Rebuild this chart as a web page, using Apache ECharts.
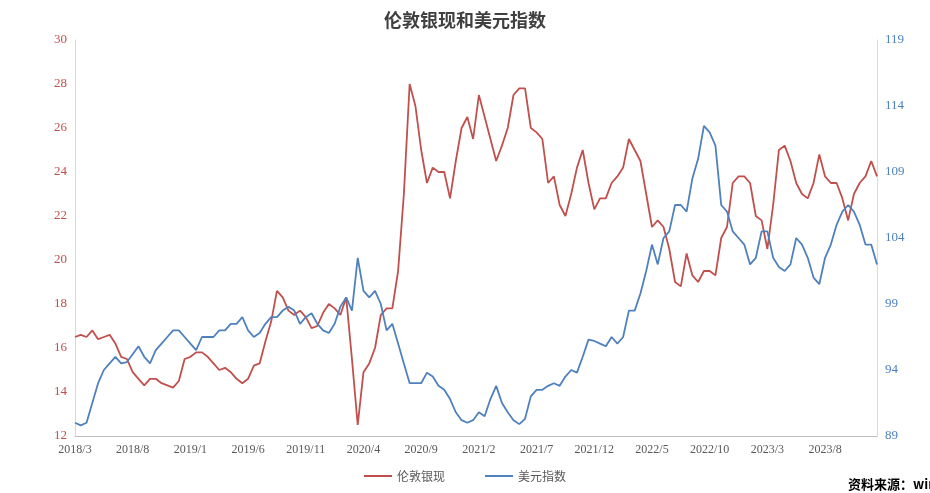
<!DOCTYPE html>
<html>
<head>
<meta charset="utf-8">
<script src="https://cdn.jsdelivr.net/npm/echarts@6/dist/echarts.min.js"></script>
<style>
  html, body { margin: 0; padding: 0; background: #fff; }
  #chart { width: 930px; height: 493px; }
</style>
</head>
<body>
<div id="chart"></div>
<script>
// two points per month, 2018/3 .. 2023/12
var startYear = 2018, startMonth = 3, monthCount = 70;

var silver = [
  16.5,16.6, 16.5,16.8, 16.4,16.5, 16.6,16.2, 15.6,15.5, 14.9,14.6, 14.3,14.6, 14.6,14.4, 14.3,14.2, 14.5,15.5,
  15.6,15.8, 15.8,15.6, 15.3,15.0, 15.1,14.9, 14.6,14.4, 14.6,15.2, 15.3,16.3, 17.2,18.6, 18.3,17.7, 17.5,17.7,
  17.4,16.9, 17.0,17.6, 18.0,17.8, 17.5,18.3, 15.5,12.5, 14.9,15.3, 16.0,17.5, 17.8,17.8, 19.5,23.0, 28.0,27.0,
  25.0,23.5, 24.2,24.0, 24.0,22.8, 24.5,26.0, 26.5,25.5, 27.5,26.5, 25.5,24.5, 25.2,26.0, 27.5,27.8, 27.8,26.0,
  25.8,25.5, 23.5,23.8, 22.5,22.0, 23.0,24.2, 25.0,23.5, 22.3,22.8, 22.8,23.5, 23.8,24.2, 25.5,25.0, 24.5,23.0,
  21.5,21.8, 21.5,20.5, 19.0,18.8, 20.3,19.3, 19.0,19.5, 19.5,19.3, 21.0,21.5, 23.5,23.8, 23.8,23.5, 22.0,21.8,
  20.5,22.5, 25.0,25.2, 24.5,23.5, 23.0,22.8, 23.5,24.8, 23.8,23.5, 23.5,22.8, 21.8,23.0, 23.5,23.8, 24.5,23.8
];

var dollar = [
  90.0,89.8, 90.0,91.5, 93.0,94.0, 94.5,95.0, 94.5,94.6, 95.2,95.8, 95.0,94.5, 95.5,96.0, 96.5,97.0, 97.0,96.5,
  96.0,95.5, 96.5,96.5, 96.5,97.0, 97.0,97.5, 97.5,98.0, 97.0,96.5, 96.8,97.5, 98.0,98.0, 98.5,98.8, 98.5,97.5,
  98.0,98.3, 97.5,97.0, 96.8,97.5, 98.8,99.5, 98.5,102.5, 100.0,99.5, 100.0,99.0, 97.0,97.5, 96.0,94.5, 93.0,93.0,
  93.0,93.8, 93.5,92.8, 92.5,91.8, 90.8,90.2, 90.0,90.2, 90.8,90.5, 91.8,92.8, 91.5,90.8, 90.2,89.9, 90.3,92.0,
  92.5,92.5, 92.8,93.0, 92.8,93.5, 94.0,93.8, 95.0,96.3, 96.2,96.0, 95.8,96.5, 96.0,96.5, 98.5,98.5, 99.8,101.5,
  103.5,102.0, 104.0,104.5, 106.5,106.5, 106.0,108.5, 110.0,112.5, 112.0,111.0, 106.5,106.0, 104.5,104.0, 103.5,102.0, 102.5,104.5,
  104.5,102.5, 101.8,101.5, 102.0,104.0, 103.5,102.5, 101.0,100.5, 102.5,103.5, 105.0,106.0, 106.5,106.0, 105.0,103.5, 103.5,102.0
];

var dates = [];
for (var i = 0; i < monthCount; i++) {
  var m = startMonth - 1 + i;
  var label = (startYear + Math.floor(m / 12)) + '/' + (m % 12 + 1);
  dates.push(label + '/1');
  dates.push(label + '/16');
}

var serif = 'Liberation Serif';
var myChart = echarts.init(document.getElementById('chart'));
var option = {
  animation: false,
  color: ['#c0504d', '#4f81bd'],
  title: {
    text: '伦敦银现和美元指数',
    left: 'center',
    top: 6,
    textStyle: { fontSize: 18, fontWeight: 'bold', color: '#404040', fontFamily: 'Noto Sans CJK SC' }
  },
  legend: {
    bottom: 6,
    left: 'center',
    itemWidth: 28,
    itemGap: 40,
    icon: 'rect',
    itemHeight: 2,
    textStyle: { color: '#595959', fontSize: 12, fontFamily: 'Noto Sans CJK SC' },
    data: ['伦敦银现', '美元指数']
  },
  grid: { left: 75, right: 53, top: 40, bottom: 57 },
  xAxis: {
    type: 'category',
    data: dates,
    boundaryGap: false,
    axisLine: { lineStyle: { color: '#bfbfbf' } },
    axisTick: { show: false },
    axisLabel: {
      interval: 9,
      color: '#595959',
      fontSize: 12,
      fontFamily: serif,
      formatter: function (v) { return v.split('/').slice(0, 2).join('/'); }
    }
  },
  yAxis: [
    {
      type: 'value',
      min: 12, max: 30, interval: 2,
      splitLine: { show: false },
      axisLine: { show: true, lineStyle: { color: '#d9d9d9' } },
      axisLabel: { color: '#c0504d', fontSize: 13, fontFamily: serif }
    },
    {
      type: 'value',
      min: 89, max: 119, interval: 5,
      splitLine: { show: false },
      axisLine: { show: true, lineStyle: { color: '#d9d9d9' } },
      axisLabel: { color: '#4f81bd', fontSize: 13, fontFamily: serif }
    }
  ],
  series: [
    {
      name: '伦敦银现',
      type: 'line',
      yAxisIndex: 0,
      showSymbol: false,
      lineStyle: { width: 1.8 },
      data: silver
    },
    {
      name: '美元指数',
      type: 'line',
      yAxisIndex: 1,
      showSymbol: false,
      lineStyle: { width: 1.8 },
      data: dollar
    }
  ],
  graphic: [{
    type: 'text',
    left: 848,
    top: 478,
    style: { text: '资料来源：wind', fontSize: 13, fontWeight: 'bold', fill: '#000', fontFamily: 'Noto Sans CJK SC' }
  }]
};
myChart.setOption(option);
</script>
</body>
</html>
